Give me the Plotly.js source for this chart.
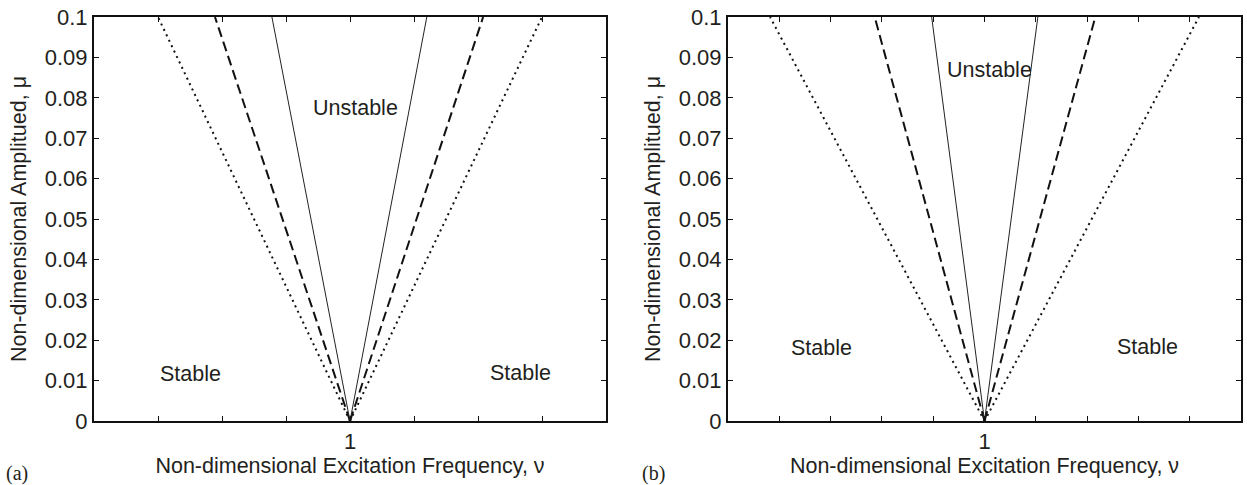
<!DOCTYPE html>
<html>
<head>
<meta charset="utf-8">
<script src="https://cdn.plot.ly/plotly-3.0.1.min.js"></script>
<style>html,body{margin:0;padding:0;background:#fff;}#chart{width:1247px;height:485px;}</style>
</head>
<body>
<div id="chart"></div>
<script>
// ---- data ----
const muPts = [0, 0.1];
// panel (a)
const a_solidL = [1.000, 0.9878];
const a_solidR = [1.000, 1.0120];
const a_dashL  = [1.000, 0.9789];
const a_dashR  = [1.000, 1.0208];
const a_dotL   = [1.000, 0.9700];
const a_dotR   = [1.000, 1.0300];
// panel (b)
const b_solidL = [1.000, 0.9897];
const b_solidR = [1.000, 1.0104];
const b_dashL  = [1.000, 0.9786];
const b_dashR  = [1.000, 1.0216];
const b_dotL   = [1.000, 0.9582];
const b_dotR   = [1.000, 1.0418];

const a_xTicks = [0.97, 0.98, 0.99, 1.00, 1.01, 1.02, 1.03];
const b_xTicks = [0.96, 0.97, 0.98, 0.99, 1.00, 1.01, 1.02, 1.03, 1.04];
const xTickLabel = (v) => Math.abs(v - 1) < 1e-9 ? '1' : '';
const yTicks = [0, 0.01, 0.02, 0.03, 0.04, 0.05, 0.06, 0.07, 0.08, 0.09, 0.1];
const yTickText = ['0', '0.01', '0.02', '0.03', '0.04', '0.05', '0.06', '0.07', '0.08', '0.09', '0.1'];

const regionLabels = ['Unstable', 'Stable', 'Stable'];
const a_labelNu = [1.0008, 0.9750, 1.0266];
const a_labelMu = [0.0774, 0.0116, 0.0118];
const b_labelNu = [1.0010, 0.9682, 1.0318];
const b_labelMu = [0.0869, 0.0181, 0.0182];

const xTitle = 'Non-dimensional Excitation Frequency, ν';
const yTitle = 'Non-dimensional Amplitued, μ';

// ---- styles ----
const FONT = 'Liberation Sans, Arial, Helvetica, sans-serif';
const TXT = '#231f20';
const FS = 22;
const FS_T = 21.5;
const solid = {color: '#222', width: 1, dash: 'solid'};
const dashed = {color: '#111', width: 2, dash: '10px,5px'};
const dotted = {color: '#111', width: 2, dash: '2px,4px'};

function tr(x, line, xa, ya) {
  return {x: x, y: muPts, mode: 'lines', line: line, xaxis: xa, yaxis: ya, showlegend: false, hoverinfo: 'skip'};
}
const data = [
  tr(a_dotL, dotted, 'x', 'y'), tr(a_dotR, dotted, 'x', 'y'),
  tr(a_dashL, dashed, 'x', 'y'), tr(a_dashR, dashed, 'x', 'y'),
  tr(a_solidL, solid, 'x', 'y'), tr(a_solidR, solid, 'x', 'y'),
  tr(b_dotL, dotted, 'x2', 'y2'), tr(b_dotR, dotted, 'x2', 'y2'),
  tr(b_dashL, dashed, 'x2', 'y2'), tr(b_dashR, dashed, 'x2', 'y2'),
  tr(b_solidL, solid, 'x2', 'y2'), tr(b_solidR, solid, 'x2', 'y2')
];

function xAxis(ticks, range, dom, anchor) {
  return {
    domain: dom, range: range, anchor: anchor,
    tickmode: 'array', tickvals: ticks, ticktext: ticks.map(xTickLabel),
    ticks: 'inside', ticklen: 5, tickwidth: 1, tickcolor: '#111',
    showline: true, linewidth: 2, linecolor: '#111', mirror: 'ticks',
    showgrid: false, zeroline: false,
    tickfont: {family: FONT, size: FS, color: TXT},
    title: {text: xTitle, font: {family: FONT, size: FS_T, color: TXT}, standoff: 5}
  };
}
function yAxis(dom, anchor) {
  return {
    domain: dom, range: [0, 0.1], anchor: anchor,
    tickmode: 'array', tickvals: yTicks, ticktext: yTickText,
    ticks: 'inside', ticklen: 5, tickwidth: 1, tickcolor: '#111',
    showline: true, linewidth: 2, linecolor: '#111', mirror: 'ticks',
    showgrid: false, zeroline: false,
    tickfont: {family: FONT, size: FS, color: TXT},
    title: {text: yTitle, font: {family: FONT, size: FS_T, color: TXT}, standoff: 12}
  };
}

const annotations = [];
regionLabels.forEach((t, i) => {
  annotations.push({x: a_labelNu[i], y: a_labelMu[i], xref: 'x', yref: 'y', text: t, showarrow: false,
    font: {family: FONT, size: FS_T, color: TXT}});
  annotations.push({x: b_labelNu[i], y: b_labelMu[i], xref: 'x2', yref: 'y2', text: t, showarrow: false,
    font: {family: FONT, size: FS_T, color: TXT}});
});
annotations.push({x: 17 / 1247, y: 12 / 485, xref: 'paper', yref: 'paper', xanchor: 'center', yanchor: 'middle',
  text: '(a)', showarrow: false, font: {family: 'Liberation Serif, Times New Roman, serif', size: 20, color: TXT}});
annotations.push({x: 653 / 1247, y: 12 / 485, xref: 'paper', yref: 'paper', xanchor: 'center', yanchor: 'middle',
  text: '(b)', showarrow: false, font: {family: 'Liberation Serif, Times New Roman, serif', size: 20, color: TXT}});

const yDom = [64 / 485, 468 / 485];
const layout = {
  width: 1247, height: 485,
  margin: {l: 0, r: 0, t: 0, b: 0},
  paper_bgcolor: '#fff', plot_bgcolor: '#fff',
  showlegend: false,
  xaxis: xAxis(a_xTicks, [0.96, 1.04], [94 / 1247, 606 / 1247], 'y'),
  yaxis: yAxis(yDom, 'x'),
  xaxis2: xAxis(b_xTicks, [0.95, 1.05], [728 / 1247, 1241 / 1247], 'y2'),
  yaxis2: yAxis(yDom, 'x2'),
  annotations: annotations
};

Plotly.newPlot('chart', data, layout, {staticPlot: true, displayModeBar: false});
</script>
</body>
</html>
